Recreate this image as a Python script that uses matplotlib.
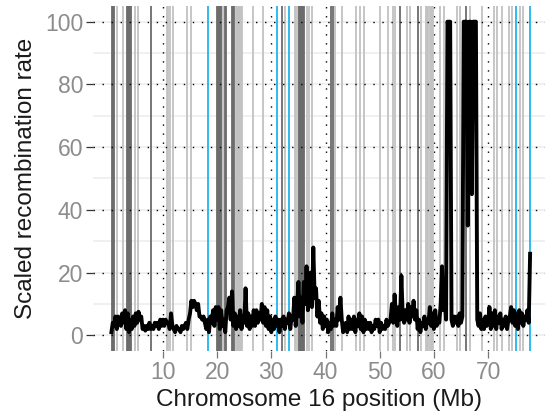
import numpy as np
import matplotlib
matplotlib.use("Agg")
import matplotlib.pyplot as plt

plt.rcParams['font.family'] = ['Liberation Sans', 'DejaVu Sans']

# recombination rate, one value every 0.25 Mb starting at 0.5 Mb
rate_start = 0.5
rate_step = 0.25
rate = [
    1, 4,                 # 0.5
    3, 6, 2, 6,           # 1
    5, 3, 7, 4,           # 2
    8, 2, 7, 1,           # 3
    5, 2, 6, 3,           # 4
    7, 4, 7.5, 5,         # 5
    6, 2, 3, 1.5,         # 6
    3, 2, 4, 2,           # 7
    3, 2, 4, 3,           # 8
    4, 2, 5, 3,           # 9
    5, 3, 5, 4,           # 10
    4, 2, 7, 3,           # 11
    2, 1, 3, 2,           # 12
    2, 1, 3, 2,           # 13
    3, 4, 2, 5,           # 14
    7, 11, 9, 11,         # 15
    10, 8, 10, 6,         # 16
    6, 5, 6, 4,           # 17
    2, 5, 1, 6,           # 18
    4, 8, 3, 9,           # 19
    5, 9, 2, 8,           # 20
    3, 5, 1, 8,           # 21
    9, 12, 5, 14,         # 22
    3, 7, 2, 6,           # 23
    3, 8, 2, 6,           # 24
    4, 15, 3, 7,          # 25
    2, 6, 3, 8,           # 26
    3, 8, 4, 7,           # 27
    5, 10, 4, 9,          # 28
    3, 8, 2, 6,           # 29
    1, 5, 2, 6,           # 30
    3, 5, 1, 5,           # 31
    3, 6, 2, 5,           # 32
    4, 7, 2, 6,           # 33
    5, 12, 3, 9,          # 34
    17, 6, 12, 4,         # 35
    17, 10, 22, 8,        # 36
    14, 20, 9, 28,        # 37
    12, 15, 6, 11,        # 38
    4, 7, 2, 6,           # 39
    3, 5, 1, 4,           # 40
    2, 7, 3, 5,           # 41
    3, 9, 5, 12,          # 42
    5, 1, 2, 4,           # 43
    1, 6, 2, 5,           # 44
    2, 6, 1, 5,           # 45
    3, 7, 2, 6,           # 46
    1, 5, 2, 4,           # 47
    2, 4, 1, 3,           # 48
    2, 5, 3, 5,           # 49
    1, 4, 2, 3,           # 50
    2, 5, 3, 4,           # 51
    5, 10, 4, 13,         # 52
    6, 3, 9, 5,           # 53
    19, 6, 4, 8,          # 54
    5, 10, 4, 9,          # 55
    6, 11, 5, 8,          # 56
    2, 5, 1, 4,           # 57
    3, 6, 2, 5,           # 58
    4, 9, 3, 7,           # 59
    2, 8, 3, 5,           # 60
    4, 10, 22, 8,         # 61
    12, 5, 100, 100,      # 62
    100, 5, 3, 6,         # 63
    4, 6, 3, 7,           # 64
    4, 6, 100, 100,       # 65
    100, 35, 100, 100,    # 66
    45, 100, 100, 100,    # 67
    5, 3, 7, 2,           # 68
    5, 2, 6, 3,           # 69
    4, 9, 2, 7,           # 70
    3, 8, 2, 6,           # 71
    4, 7, 2, 5,           # 72
    3, 6, 2, 5,           # 73
    6, 9, 4, 8,           # 74
    3, 7, 2, 8,           # 75
    4, 7, 3, 6,           # 76
    5, 8, 4, 26,          # 77
]

# marker positions (Mb)
dark_pos = [0.6, 0.8, 1.0, 3.4, 3.6, 3.8, 4.0, 4.2, 7.8,
            19.9, 20.1, 20.3, 20.5, 20.7, 21.5, 21.7, 22.8, 23.0, 23.2,
            31.9, 35.1, 35.3, 35.5, 35.7, 35.9, 36.1,
            41.0, 41.3, 53.7, 57.1, 65.9]
light_pos = [1.6, 2.6, 4.8, 5.4, 10.8, 11.0, 11.3, 11.8, 14.4, 15.2,
             20.9, 21.1, 23.4, 23.6, 23.8, 24.0, 24.2, 24.4, 24.6,
             26.7, 28.5, 32.5, 34.3, 34.6, 34.9, 36.6, 37.0, 37.5,
             41.7, 43.0, 45.7, 46.4, 47.1, 50.0, 51.6, 52.4, 52.8,
             55.0, 55.6, 57.7, 58.6, 58.8, 59.0, 59.2, 59.4, 59.6, 59.8,
             61.1, 61.8, 64.2, 64.8, 66.7, 68.8, 71.0, 71.6, 72.5,
             73.8, 74.4, 75.9, 76.5]
blue_pos = [18.3, 31.1, 33.3, 75.1, 77.7]

x_breaks = [10, 20, 30, 40, 50, 60, 70]
x_dotted = [10, 30, 40, 60, 70]
y_breaks = [0, 20, 40, 60, 80, 100]
y_minor = [10, 30, 50, 70, 90]

fig = plt.figure(figsize=(5.45, 4.19), dpi=100)
ax = fig.add_axes([93 / 545, 1 - 351 / 419, 1 - 93 / 545, 345 / 419])

# light background grid
for y in y_breaks + y_minor:
    ax.axhline(y, color='#ececec', lw=1.1, zorder=0)

for x in x_dotted:
    ax.axvline(x, color='black', lw=1.0, ls=(0, (1, 5.5)), zorder=1)

for x in light_pos:
    ax.axvline(x, color='#c2c2c2', lw=1.3, zorder=2)
for x in dark_pos:
    ax.axvline(x, color='#6b6b6b', lw=1.3, zorder=3)
for x in blue_pos:
    ax.axvline(x, color='#22b4ea', lw=1.3, zorder=4)

for y in y_breaks:
    ax.axhline(y, color='black', lw=1.0, ls=(0, (1, 5.5)), zorder=5)

xs = rate_start + rate_step * np.arange(len(rate))
ax.plot(xs, rate, color='black', lw=2.8, zorder=6, solid_joinstyle='round')

ax.set_xlim(-2.9, 80.5)
ax.set_ylim(-5, 105)
ax.set_xticks(x_breaks)
ax.set_yticks(y_breaks)
for s in ax.spines.values():
    s.set_visible(False)
ax.tick_params(axis='y', length=5, width=0.9, color='#333333',
               labelcolor='#8c8c8c', labelsize=16.5, pad=2)
ax.tick_params(axis='x', length=5, width=0.9, color='#777777',
               labelcolor='#8c8c8c', labelsize=16.5, pad=2)
ax.set_xlabel('Chromosome 16 position (Mb)', fontsize=17.5, color='#1a1a1a', labelpad=4)
ax.set_ylabel('Scaled recombination rate', fontsize=17.5, color='#1a1a1a', labelpad=6)

fig.savefig('out.png', dpi=100)
